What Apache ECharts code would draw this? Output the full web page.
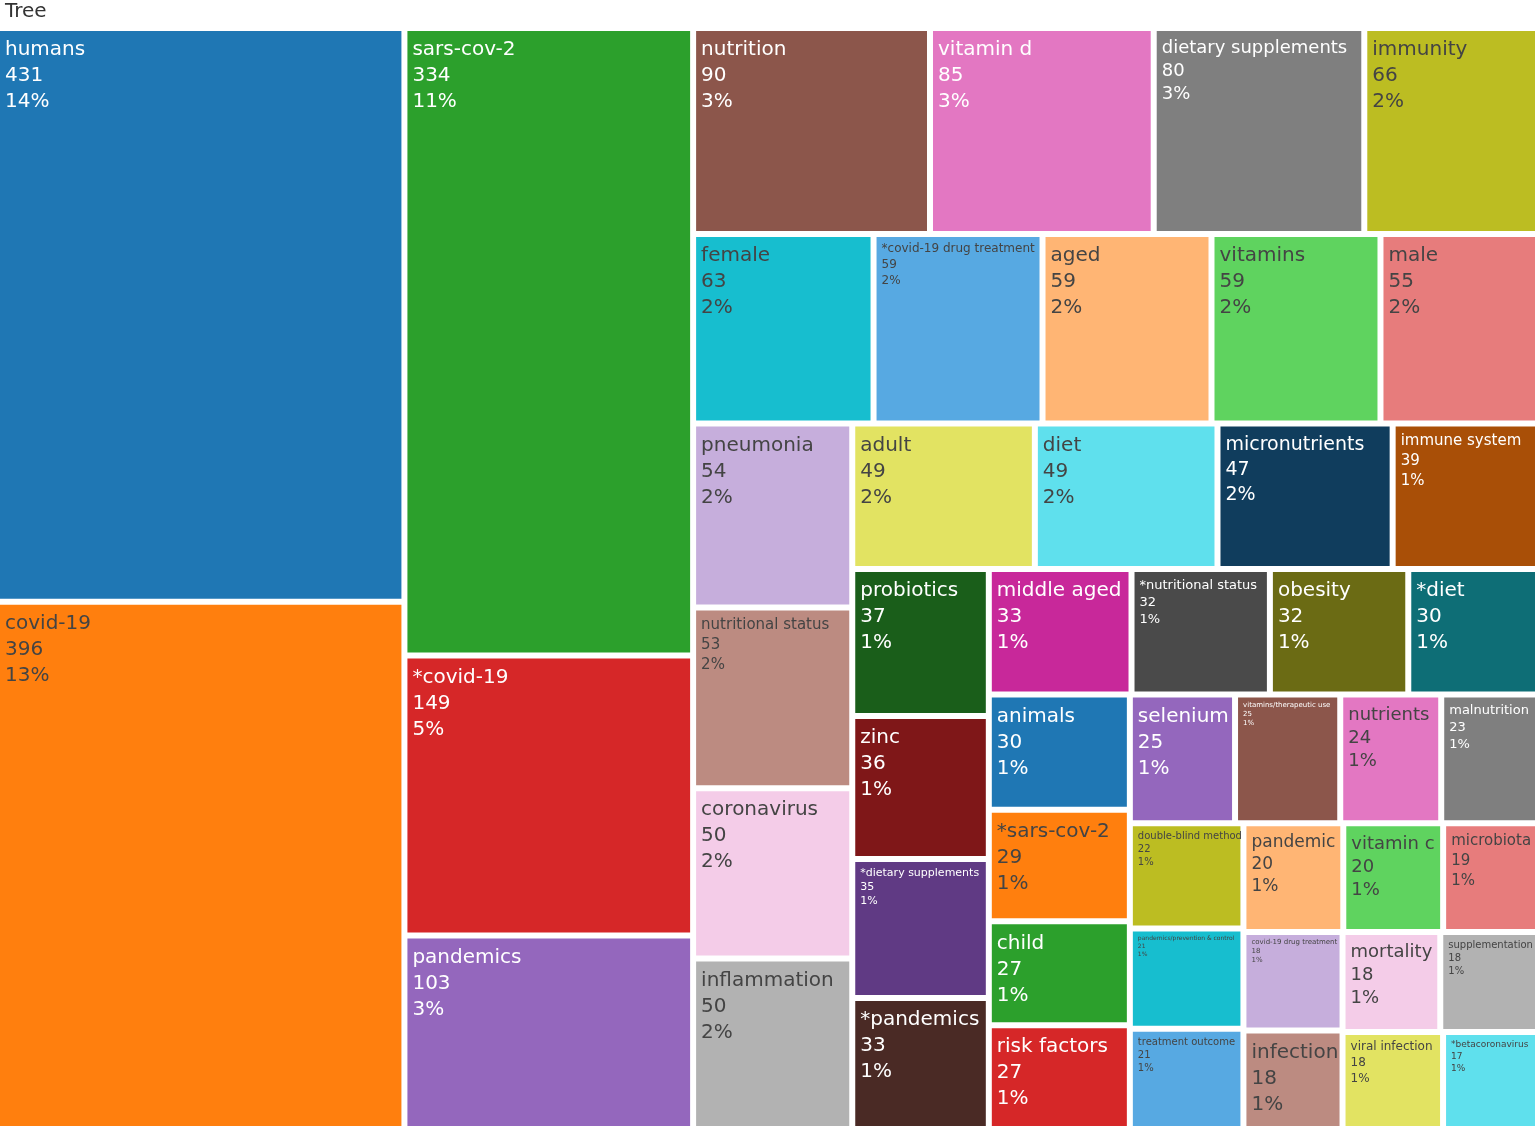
<!DOCTYPE html>
<html><head><meta charset="utf-8">
<script src="https://cdn.jsdelivr.net/npm/echarts@6/dist/echarts.min.js"></script>
<style>html,body{margin:0;padding:0;background:#fff}#c{width:1535px;height:1126px}</style>
</head><body><div id="c"></div>
<script>
const names = ["humans","covid-19","sars-cov-2","*covid-19","pandemics","nutrition","vitamin d","dietary supplements","immunity","female","*covid-19 drug treatment","aged","vitamins","male","pneumonia","nutritional status","coronavirus","inflammation","adult","diet","micronutrients","immune system","probiotics","zinc","*dietary supplements","*pandemics","middle aged","*nutritional status","obesity","*diet","animals","*sars-cov-2","child","risk factors","selenium","vitamins/therapeutic use","nutrients","malnutrition","double-blind method","pandemics/prevention & control","treatment outcome","pandemic","vitamin c","microbiota","covid-19 drug treatment","infection","mortality","supplementation","viral infection","*betacoronavirus"];
const values = [431,396,334,149,103,90,85,80,66,63,59,59,59,55,54,53,50,50,49,49,47,39,37,36,35,33,33,32,32,30,30,29,27,27,25,25,24,23,22,21,21,20,20,19,18,18,18,18,18,17];
const pcts = ["14%","13%","11%","5%","3%","3%","3%","3%","2%","2%","2%","2%","2%","2%","2%","2%","2%","2%","2%","2%","2%","1%","1%","1%","1%","1%","1%","1%","1%","1%","1%","1%","1%","1%","1%","1%","1%","1%","1%","1%","1%","1%","1%","1%","1%","1%","1%","1%","1%","1%"];
const rootLabel = "Tree";

// styling (not data)
const palette = ["#1f77b4","#ff7f0e","#2ca02c","#d62728","#9467bd","#8c564b","#e377c2","#7f7f7f","#bcbd22","#17becf",
  "#57a9e2","#ffb574","#5fd35f","#e77c7c","#c6aedc","#bc8b81","#f4cce8","#b2b2b2","#e2e362","#5fe0ed",
  "#103d5d","#a94f07","#1a5e1a","#7f1718","#603a84","#4a2a25","#c8289a","#4a4a4a","#6b6b14","#0e6e76"];
const fontSizes = {"dietary supplements":18,"nutritional status":15,"immune system":15,"*covid-19 drug treatment":12,
  "*nutritional status":13,"*dietary supplements":11,"vitamins/therapeutic use":7,"double-blind method":10,
  "pandemics/prevention & control":6,"covid-19 drug treatment":7,"supplementation":10,"treatment outcome":10,
  "*betacoronavirus":9,"viral infection":12,"malnutrition":13,"nutrients":18,"microbiota":15,"mortality":18,
  "pandemic":17,"vitamin c":18,"micronutrients":19};
const darkText = new Set(["covid-19","immunity","female","*covid-19 drug treatment","aged","vitamins","male","pneumonia",
  "nutritional status","coronavirus","inflammation","adult","diet","*sars-cov-2","nutrients","double-blind method",
  "pandemics/prevention & control","treatment outcome","pandemic","vitamin c","microbiota","covid-19 drug treatment",
  "infection","mortality","supplementation","viral infection","*betacoronavirus"]);

const data = names.map((n, i) => {
  const fs = fontSizes[n] || 20;
  return {
    name: n, value: values[i], pct: pcts[i],
    itemStyle: { color: palette[i % 30] },
    label: { fontSize: fs, lineHeight: Math.round(fs * 1.3), color: darkText.has(n) ? "#444" : "#fff",
      padding: [Math.round(fs*0.2) + 2, 0, 0, 5] }
  };
});

const chart = echarts.init(document.getElementById('c'), null, {renderer: 'canvas'});
chart.setOption({
  animation: false,
  title: { text: rootLabel, left: 0, top: -3, textStyle: { fontSize: 20, fontWeight: 'normal', color: '#333', fontFamily: 'DejaVu Sans' } },
  series: [{
    type: 'treemap', left: 0, top: 31, right: 0, bottom: 0,
    roam: false, nodeClick: false, breadcrumb: { show: false },
    squareRatio: 1, sort: false,
    itemStyle: { borderWidth: 0, gapWidth: 6, borderColor: '#fff' },
    levels: [{ itemStyle: { borderWidth: 0, gapWidth: 6 } }, { itemStyle: { borderWidth: 0 } }],
    label: { show: true, position: 'insideTopLeft', distance: 0, overflow: 'none', fontFamily: 'DejaVu Sans',
      formatter: p => p.name + '\n' + p.value + '\n' + p.data.pct },
    data: data
  }]
});
</script></body></html>
